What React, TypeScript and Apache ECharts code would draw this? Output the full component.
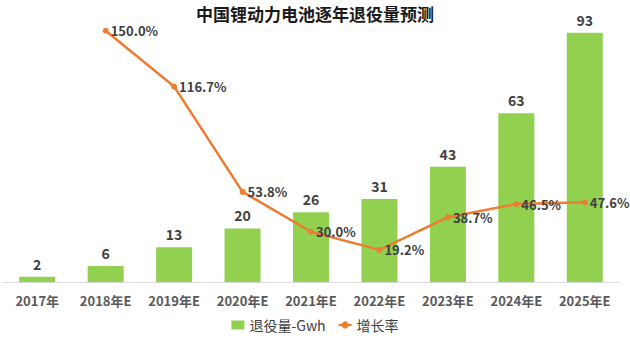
import React, { useEffect, useRef } from "react";
import * as echarts from "echarts";

const categories = ["2017年", "2018年E", "2019年E", "2020年E", "2021年E", "2022年E", "2023年E", "2024年E", "2025年E"];
const retired = [2, 6, 13, 20, 26, 31, 43, 63, 93];
const growth = [null, 150.0, 116.7, 53.8, 30.0, 19.2, 38.7, 46.5, 47.6];

const FONT = "'Noto Sans CJK SC', 'Noto Sans', sans-serif";

export default function App() {
  const ref = useRef<HTMLDivElement>(null);
  useEffect(() => {
    const chart = echarts.init(ref.current!, null, { renderer: "svg" });
    chart.setOption({
      animation: false,
      backgroundColor: "#ffffff",
      textStyle: { fontFamily: FONT },
      title: {
        text: "中国锂动力电池逐年退役量预测",
        left: "center",
        top: 0,
        textStyle: { fontSize: 17, fontWeight: "bold", color: "#1a1a1a", fontFamily: FONT },
      },
      legend: {
        bottom: 3,
        left: "center",
        itemGap: 12,
        itemWidth: 13,
        itemHeight: 9,
        textStyle: { fontSize: 14, color: "#404040", fontFamily: FONT },
        data: [
          { name: "退役量-Gwh", icon: "rect" },
          { name: "增长率" },
        ],
      },
      grid: { left: 3, right: 11, top: 14, bottom: 58, containLabel: false },
      xAxis: {
        type: "category",
        data: categories,
        axisLine: { lineStyle: { color: "#d9d9d9", width: 1 } },
        axisTick: { show: false },
        axisLabel: { fontSize: 13, fontWeight: "bold", color: "#595959", margin: 12, fontFamily: FONT, interval: 0 },
      },
      yAxis: [
        { type: "value", min: 0, max: 100, show: false, splitLine: { show: false } },
        { type: "value", min: 0, max: 160, show: false, splitLine: { show: false } },
      ],
      series: [
        {
          name: "退役量-Gwh",
          type: "bar",
          data: retired,
          barWidth: 36,
          itemStyle: { color: "#92d050" },
          label: {
            show: true,
            position: "top",
            distance: 6,
            fontSize: 14,
            fontWeight: "bold",
            color: "#404040",
            fontFamily: FONT,
          },
        },
        {
          name: "增长率",
          type: "line",
          yAxisIndex: 1,
          data: growth,
          symbol: "circle",
          symbolSize: 6,
          lineStyle: { color: "#ed7d31", width: 2.5 },
          itemStyle: { color: "#ed7d31" },
          label: {
            show: true,
            position: "right",
            distance: 2,
            fontSize: 13,
            fontWeight: "bold",
            color: "#404040",
            fontFamily: FONT,
            formatter: (p: any) => (p.value == null ? "" : Number(p.value).toFixed(1) + "%"),
          },
        },
      ],
    });
    return () => chart.dispose();
  }, []);
  return <div ref={ref} style={{ width: 630, height: 340, position: "absolute", left: 0, top: 0 }} />;
}
